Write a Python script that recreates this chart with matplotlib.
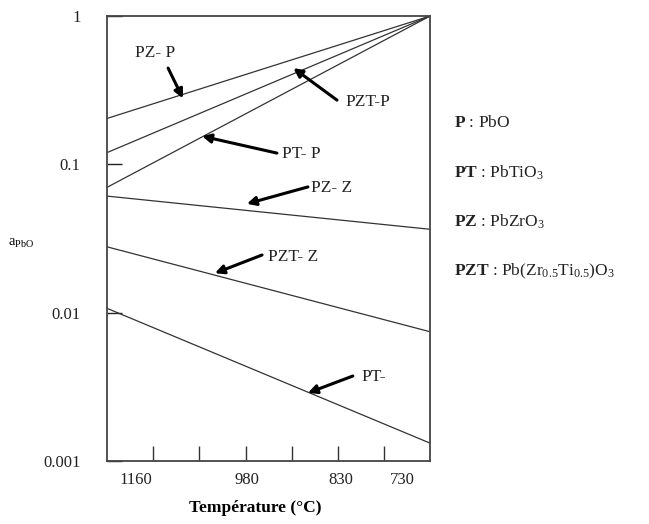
import numpy as np
import matplotlib
matplotlib.use("Agg")
import matplotlib.pyplot as plt

# Droites a_PbO(T) : valeurs lues aux deux bords du cadre (T en °C)
t_ends = [1206, 686]
series = {
    "PZ-P":  [0.204, 1.0],
    "PZT-P": [0.120, 1.0],
    "PT-P":  [0.070, 1.0],
    "PZ-Z":  [0.0611, 0.0365],
    "PZT-Z": [0.0278, 0.00744],
    "PT-":   [0.0107, 0.00132],
}

t_labels = [1160, 980, 830, 730]
t_marks = [1132, 1058, 983, 908, 834, 760]
y_ticks = [0.001, 0.01, 0.1, 1]
y_ticklabels = ["0.001", "0.01", "0.1", "1"]

# (texte, position texte, pointe de flèche, queue) en fraction d'axes
labels = [
    ("PZ- P",  (0.087, 0.917), (0.235, 0.815), (0.189, 0.883)),
    ("PZT-P",  (0.737, 0.807), (0.577, 0.883), (0.712, 0.811)),
    ("PT- P",  (0.542, 0.690), (0.294, 0.730), (0.526, 0.692)),
    ("PZ- Z",  (0.632, 0.613), (0.433, 0.578), (0.622, 0.616)),
    ("PZT- Z", (0.498, 0.458), (0.334, 0.422), (0.480, 0.463)),
    ("PT-",    (0.789, 0.189), (0.622, 0.153), (0.761, 0.191)),
]

legend_rows = [
    (r"$\mathbf{P}$ : PbO", 0.765),
    (r"$\mathbf{PT}$ : PbTiO$_3$", 0.670),
    (r"$\mathbf{PZ}$ : PbZrO$_3$", 0.577),
    (r"$\mathbf{PZT}$ : Pb(Zr$_{0.5}$Ti$_{0.5}$)O$_3$", 0.483),
]

plt.rcParams["font.family"] = ["Liberation Serif", "DejaVu Serif"]
plt.rcParams["mathtext.fontset"] = "custom"
plt.rcParams["mathtext.rm"] = "Liberation Serif"
plt.rcParams["mathtext.it"] = "Liberation Serif:italic"
plt.rcParams["mathtext.bf"] = "Liberation Serif:bold"

fig = plt.figure(figsize=(6.49, 5.24), dpi=100)
ax = fig.add_axes([0.1649, 0.1202, 0.4977, 0.8492])

for name, vals in series.items():
    ax.plot(t_ends, vals, color="#333333", lw=0.9)

ax.set_yscale("log")
ax.set_xlim(t_ends[0], t_ends[1])
ax.set_ylim(0.001, 1)

ax.set_yticks(y_ticks)
ax.set_yticklabels(y_ticklabels)
ax.yaxis.set_minor_locator(matplotlib.ticker.NullLocator())
ax.tick_params(axis="y", direction="in", length=11, width=1.0, pad=19,
               labelsize=12, colors="#222222")

ax.set_xticks(t_labels)
ax.set_xticks(t_marks, minor=True)
ax.tick_params(axis="x", which="major", length=0, pad=8, labelsize=12,
               colors="#222222")
ax.tick_params(axis="x", which="minor", direction="in", length=11, width=1.0,
               colors="#333333")

for sp in ax.spines.values():
    sp.set_linewidth(1.3)
    sp.set_color("#444444")

ax.set_xlabel("Température (°C)", fontsize=12.5, fontweight="bold")
ax.xaxis.set_label_coords(0.458, -0.088)
fig.text(0.012, 0.535, r"a$_{\mathrm{PbO}}$", fontsize=10.5, ha="left", va="center")

for txt, xy_txt, xy_head, xy_tail in labels:
    ax.annotate("", xy=xy_head, xytext=xy_tail, xycoords="axes fraction",
                textcoords="axes fraction",
                arrowprops=dict(arrowstyle="-|>", color="black", lw=2.2,
                                mutation_scale=13, shrinkA=0, shrinkB=0))
    ax.text(xy_txt[0], xy_txt[1], txt, transform=ax.transAxes, fontsize=12.5,
            ha="left", va="center", color="#222222")

for txt, y in legend_rows:
    fig.text(0.700, y, txt, fontsize=12.5, ha="left", va="center", color="#222222")

fig.savefig("out.png", dpi=100)
